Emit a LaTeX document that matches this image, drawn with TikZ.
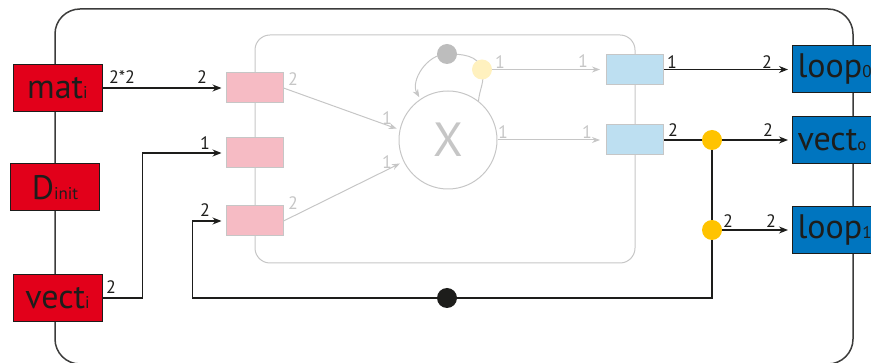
\documentclass[tikz,border=0pt]{standalone}
\usepackage{fontspec}
\setmainfont{PT Sans}
\usetikzlibrary{arrows.meta}
\definecolor{ink}{HTML}{1D1D1B}
\definecolor{frame}{HTML}{3C3C3B}
\definecolor{extred}{HTML}{E2001A}
\definecolor{extblue}{HTML}{0075BF}
\definecolor{inpink}{HTML}{F6BBC4}
\definecolor{outcyan}{HTML}{BDDFF1}
\definecolor{ghost}{HTML}{C6C6C6}
\definecolor{dotgray}{HTML}{BDBDBD}
\definecolor{paleyellow}{HTML}{FFF1BF}
\definecolor{gold}{HTML}{FFC300}
\newcommand{\portsub}[1]{{\fontsize{17}{20}\selectfont #1}}
\begin{document}
\begin{tikzpicture}[x=1pt,y=1pt,
  ext/.style={draw=ink,line width=1pt,inner sep=0pt,minimum height=47pt,text=ink,font=\fontsize{34}{40}\selectfont},
  extin/.style={ext,fill=extred,minimum width=89pt},
  extout/.style={ext,fill=extblue,anchor=west,text width=112pt,align=left,inner xsep=5pt},
  port/.style={draw=ghost,line width=1pt,minimum width=57pt,minimum height=30pt,inner sep=0pt},
  wire/.style={ink,line width=1.2pt},
  arrow/.style={wire,-{Stealth[length=9pt,width=7pt]},shorten >=4pt},
  garrow/.style={ghost,line width=1pt,-{Stealth[length=8pt,width=6pt]},shorten >=6pt},
  num/.style={text=ink,font=\fontsize{18}{20}\selectfont,inner sep=0pt},
  gnum/.style={num,text=ghost},
  dot/.style={circle,inner sep=0pt,minimum size=20pt},
]
\useasboundingbox (0,0) rectangle (871,-363);
% outer and inner component
\draw[frame,line width=1.5pt,rounded corners=25pt] (55,-9) rectangle (853,-364);
\draw[ghost,line width=1pt,rounded corners=15pt] (255,-35) rectangle (635,-263);
% external ports
\node[extin] (mati) at (57.5,-88) {mat\portsub{i}};
\node[extin] (dinit) at (55,-187.5) {D\portsub{init}};
\node[extin] (vecti) at (57.5,-298) {vect\portsub{i}};
\node[extout] (loopa) at (792,-69.5) {loop\portsub{0}};
\node[extout] (vecto) at (792,-140) {vect\portsub{o}};
\node[extout] (loopb) at (792,-230) {loop\portsub{1}};
% inner ports
\node[port,fill=inpink] (ina) at (254.5,-88) {};
\node[port,fill=inpink] (inb) at (254.5,-153) {};
\node[port,fill=inpink] (inc) at (254.5,-221) {};
\node[port,fill=outcyan] (outa) at (635,-69.5) {};
\node[port,fill=outcyan] (outb) at (635,-140) {};
\node[circle,draw=ghost,line width=1pt,minimum size=98pt,text=ghost,font=\fontsize{48}{50}\selectfont] (mul) at (448,-140) {X};
% self loop
\coordinate (tapc) at (482,-69.5);
\coordinate (statec) at (447,-54);
\draw[garrow,shorten >=2pt] (mul.52) to[out=85,in=-75] (tapc) to[out=105,in=0] (statec) to[out=180,in=120] (mul.124);
\node[dot,fill=dotgray] (state) at (statec) {};
\node[dot,fill=paleyellow] (tap) at (tapc) {};
\draw[garrow,shorten >=3pt] (ina.east) -- (mul.168);
\draw[garrow,shorten >=4pt] (inc.east) -- (mul.206);
\draw[garrow] (mul.east) -- (outb.west);
\draw[garrow] (tap.east) -- (outa.west);
% external wires
\coordinate (forka) at (712,-140);
\coordinate (forkb) at (712,-230);
\coordinate (back) at (712,-298);
\draw[arrow] (mati.east) -- (ina.west);
\draw[arrow] (vecti.east) -- ++(40,0) |- (inb.west);
\draw[arrow] (outa.east) -- (loopa.west);
\draw[arrow] (outb.east) -- (vecto.west);
\draw[arrow] (forkb) -- (loopb.west);
\draw[arrow] (forka) -- (back) -| ([xshift=-33pt]inc.west) -- (inc.west);
\node[dot,fill=gold] (splita) at (forka) {};
\node[dot,fill=gold] (splitb) at (forkb) {};
\node[dot,fill=ink] (delay) at (447,-298) {};
% rates
\foreach \p/\t [count=\i] in {122/2*2, 202/2, 672/1, 767/2, 673/2, 768/2, 728/2, 771/2}
  \node[num] (rate\i) at (\p,{\i<3 ? -77 : (\i<5 ? -62 : (\i<7 ? -130 : -221))}) {\t};
\node[num] (ratei) at (205,-143) {1};
\node[num] (ratej) at (111,-287) {2};
\node[num] (ratek) at (205,-210) {2};
\foreach \p/\t [count=\i] in {293/-79, 387/-118, 387/-162, 293/-203, 500/-62, 583/-61, 503/-132, 587/-132}
  \node[gnum] (grate\i) at (\p,\t) {\ifnum\i=1 2\else\ifnum\i=4 2\else 1\fi\fi};
\end{tikzpicture}
\end{document}
